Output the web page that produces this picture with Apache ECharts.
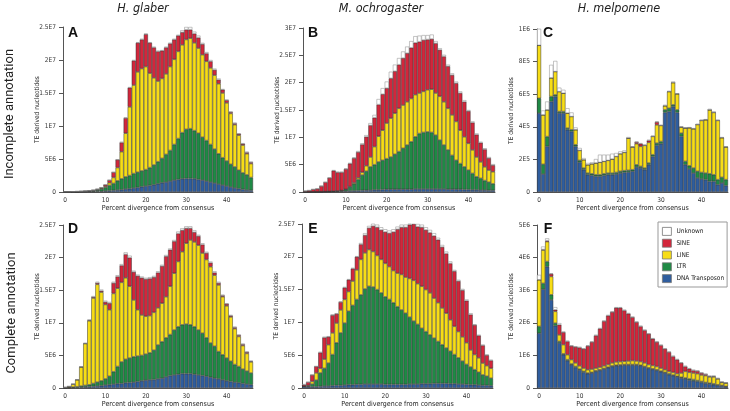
<!DOCTYPE html>
<html>
<head>
<meta charset="utf-8">
<script src="https://cdn.jsdelivr.net/npm/echarts@6/dist/echarts.min.js"></script>
<style>
  html, body { margin: 0; padding: 0; background: #fff; }
  #chart { width: 730px; height: 411px; }
</style>
</head>
<body>
<div id="chart"></div>
<script>
// percent divergence bins
const bins = ['0','1','2','3','4','5','6','7','8','9','10','11','12','13','14','15','16','17','18','19',
  '20','21','22','23','24','25','26','27','28','29','30','31','32','33','34','35','36','37','38','39',
  '40','41','42','43','44','45','46'];

// y tick labels (values are stored in the unit of each panel)
const yTicks25 = ['0', '5E6', '1E7', '1.5E7', '2E7', '2.5E7'];
const yTicks30 = ['0', '5E6', '1E7', '1.5E7', '2E7', '2.5E7', '3E7'];
const yTicks1e6 = ['0', '2E5', '4E5', '6E5', '8E5', '1E6'];
const yTicks5e6 = ['0', '1E6', '2E6', '3E6', '4E6', '5E6'];

// A - H. glaber, incomplete (x1E6)
const aDna = [0.02,0.02,0.03,0.03,0.04,0.05,0.06,0.07,0.09,0.1, 0.15,0.2,0.25,0.3,0.35,0.45,0.5,0.6,0.7,0.8,
  0.9,1.0,1.1,1.25,1.4,1.5,1.65,1.8,1.9,2.0, 2.05,2.05,2.0,1.9,1.8,1.65,1.5,1.35,1.2,1.05, 0.9,0.75,0.6,0.5,0.4,0.3,0.25];
const aLtr = [0.01,0.01,0.01,0.02,0.02,0.03,0.06,0.11,0.19,0.35, 0.55,0.8,1.05,1.4,1.65,1.85,2.0,2.2,2.3,2.4,
  2.5,2.7,3.0,3.35,3.7,4.2,4.65,5.4,6.2,7.0, 7.45,7.55,7.3,7.0,6.5,6.15,5.7,5.15,4.6,4.15, 3.8,3.45,3.2,2.8,2.5,2.3,1.95];
const aLine = [0.01,0.01,0.02,0.03,0.04,0.05,0.05,0.07,0.1,0.13, 0.15,0.4,0.9,2.0,4.1,6.6,10.4,13.4,15.2,15.5,
  15.6,14.3,13.2,12.2,12.1,12.2,12.7,12.9,13.2,13.3, 13.6,13.7,13.3,12.9,12.5,12.0,11.6,11.2,10.6,9.8, 8.8,7.7,6.4,5.3,4.2,3.2,2.1];
const aSine = [0,0,0,0.01,0.01,0.01,0.02,0.03,0.05,0.09, 0.25,0.4,0.8,1.2,1.4,2.3,2.9,3.7,4.4,4.4,
  4.9,4.6,4.6,4.5,4.2,4.0,3.5,3.0,2.4,1.9, 1.5,1.3,1.4,1.6,1.6,1.2,1.0,0.8,0.6,0.5, 0.4,0.2,0.2,0.2,0.2,0.2,0.2];
const aUnk = [0,0,0,0,0,0,0,0.02,0.02,0.03, 0,0,0,0,0.1,0.1,0.1,0.1,0.1,0.1,
  0.1,0.1,0.1,0.1,0.1,0.1,0.1,0.1,0.1,0.3, 0.4,0.4,0.3,0.3,0.2,0.2,0.2,0.2,0.2,0.1, 0.1,0.1,0.1,0.1,0.1,0.1,0.1];

// B - M. ochrogaster, incomplete (x1E6)
const bDna = [0.02,0.02,0.03,0.03,0.04,0.05,0.06,0.08,0.1,0.12, 0.15,0.2,0.22,0.25,0.3,0.32,0.35,0.4,0.4,0.45,
  0.5,0.5,0.5,0.5,0.5,0.5,0.5,0.55,0.55,0.55, 0.55,0.55,0.55,0.55,0.55,0.5,0.5,0.5,0.5,0.45, 0.45,0.4,0.4,0.35,0.35,0.3,0.3];
const bLtr = [0.01,0.01,0.01,0.02,0.02,0.03,0.04,0.05,0.08,0.13, 0.3,0.7,1.28,2.05,2.8,3.48,4.25,4.6,5.1,5.35,
  5.6,5.9,6.4,6.9,7.5,8.1,8.7,9.55,10.15,10.35, 10.45,10.35,9.85,8.95,8.05,7.2,6.2,5.3,4.7,4.15, 3.55,3.0,2.4,2.15,1.75,1.5,1.2];
const bLine = [0.01,0.01,0.01,0.01,0.02,0.02,0.02,0.02,0.02,0.03, 0.05,0.1,0.2,0.3,0.5,1.0,1.8,3.3,4.7,5.5,
  6.5,7.1,7.5,7.9,7.9,7.9,7.9,7.7,7.4,7.5, 7.7,7.9,7.7,8.0,7.9,7.6,7.4,7.1,6.1,5.5, 4.9,4.3,3.6,3.0,2.5,2.2,2.2];
const bSine = [0.16,0.26,0.45,0.54,1.02,1.7,2.48,3.75,3.4,3.32, 3.7,4.2,4.5,4.7,5.1,5.3,5.8,5.3,5.8,6.6,
  6.4,7.3,7.7,8.0,8.6,8.9,9.3,9.5,9.4,9.4, 9.2,9.2,9.1,8.5,8.3,7.7,7.3,7.0,6.8,6.4, 5.9,5.0,4.1,3.5,3.2,2.2,1.2];
const bUnk = [0,0,0,0,0,0,0,0.1,0.1,0.1, 0.1,0.1,0.1,0.2,0.2,0.3,0.4,0.5,1.0,1.1,
  1.2,1.2,1.2,1.2,1.2,1.2,1.2,1.2,1.1,0.9, 0.8,0.8,0.4,0.3,0.3,0.3,0.3,0.3,0.3,0.3, 0.2,0.2,0.2,0.2,0.2,0.2,0.2];

// C - H. melpomene, incomplete (x1E4)
const cDna = [48.4,11,28,55.5,58.6,48.4,48.4,38.2,37.1,28, 18.2,13.7,10.6,10.2,9.6,9.6,10.2,10.6,10.6,11,
  11.6,12,12.2,12.7,15.3,14.7,13.7,16.7,21.8,28.6, 29.6,48.8,49.4,52.4,48.8,34.1,16.7,14.1,11.6,8.6, 8,7.6,6.5,6.5,4.5,5.5,3.9];
const cLtr = [9.1,6,6,3.1,1,1,1,1,1.1,1, 1.2,1,1,1,1,1,1,1,1,1,
  1.1,1.1,1.1,1,1.4,1,1,1.1,1.1,1.4, 1.4,1.6,2,1.1,1.6,2,2.1,2,3.1,4.1, 4,4,4.7,4.1,3.1,3.5,3.7];
const cLine = [32.5,30.3,16.4,11.4,14.3,12.2,11.2,9.2,8.1,9.2, 6.1,5.1,5.1,6.1,7.2,7.6,7.6,7.8,8.6,9.8,
  10.8,11.2,19.7,13.9,12.9,12.3,13.9,12.6,11.2,11.2, 9.8,2.5,10.2,13.6,9.8,3.7,20.4,23.3,24.1,28.7, 31.9,32.7,39.2,38.2,36.3,24.3,20];
const cSine = [0,0,0,0,0,0,0,0,0,0, 0,0,0,0,0,0,0,0,0,0,
  0,0,0,0,1,1.6,0,1.2,0,1.7, 0,0,0,0,0,0,0,0,0,0, 0,0,0,0,0,0,0];
const cUnk = [13,2.7,5.1,8,6.5,2.4,2.1,3,2.5,1.4, 1.5,1,1.1,0.9,2.4,4.7,4.1,3.5,3.3,2.1,
  1.4,1.2,0.7,0.4,0.4,0.4,0.4,0.4,0.4,0.4, 0.4,0.6,0.4,0.7,0.4,0.4,0.4,0.4,0.4,0.4, 0.4,0.4,0.6,0.6,0.4,0.4,0.4];

// D - H. glaber, complete (x1E6)
const dDna = [0.02,0.04,0.06,0.08,0.1,0.15,0.2,0.25,0.3,0.35, 0.45,0.5,0.6,0.65,0.7,0.8,0.85,0.9,1.0,1.1,
  1.2,1.25,1.3,1.4,1.5,1.7,1.9,2.0,2.1,2.2, 2.2,2.2,2.1,2.0,1.9,1.8,1.65,1.5,1.4,1.25, 1.1,1.0,0.9,0.8,0.7,0.6,0.5];
const dLtr = [0.03,0.06,0.09,0.12,0.2,0.25,0.3,0.45,0.6,0.75, 0.95,1.3,1.9,2.65,3.3,3.6,3.75,3.9,3.9,3.9,
  4.0,4.15,4.5,5.2,5.6,6.0,6.3,6.9,7.3,7.5, 7.6,7.5,7.3,6.9,6.5,5.9,5.25,4.9,4.2,3.85, 3.5,3.1,2.7,2.5,2.2,2.0,1.8];
const dLine = [0.05,0.14,0.43,1.05,2.9,6.4,9.8,13.1,15.0,13.6, 11.4,10.2,12.0,12.0,12.2,12.5,11.0,8.7,7.1,6.2,
  5.8,5.7,5.8,5.7,5.9,6.3,7.4,8.7,10.0,11.2, 12.4,13.0,13.0,13.0,12.3,12.0,11.7,10.9,10.2,8.9, 8.0,6.8,5.5,4.6,3.6,2.7,1.7];
const dSine = [0,0,0.01,0.03,0.05,0.05,0.1,0.15,0.2,0.2, 0.4,1.0,1.6,1.8,2.6,3.6,4.4,4.3,5.2,5.7,
  5.7,5.7,5.4,5.4,5.7,6.2,5.6,4.9,4.3,3.3, 2.3,1.8,1.5,1.4,1.3,1.0,0.6,0.4,0.3,0.2, 0.3,0.2,0.2,0.2,0.2,0.2,0.1];
const dUnk = [0,0,0,0.02,0.05,0.05,0.1,0.15,0.2,0.2, 0.2,0.2,0.2,0.2,0.2,0.3,0.3,0.2,0.2,0.2,
  0.2,0.2,0.2,0.2,0.2,0.2,0.2,0.2,0.3,0.3, 0.3,0.3,0.3,0.2,0.2,0.2,0.2,0.2,0.2,0.1, 0.1,0.1,0.1,0.1,0.1,0.1,0.1];

// E - M. ochrogaster, complete (x1E6)
const eDna = [0.2,0.2,0.2,0.2,0.25,0.3,0.3,0.35,0.4,0.4, 0.45,0.5,0.5,0.55,0.55,0.6,0.6,0.6,0.6,0.6,
  0.55,0.55,0.55,0.55,0.55,0.55,0.6,0.6,0.6,0.65, 0.65,0.65,0.7,0.7,0.7,0.7,0.65,0.65,0.6,0.6, 0.55,0.5,0.5,0.45,0.4,0.4,0.35];
const eLtr = [0.05,0.1,0.4,1.0,2.05,2.7,3.5,4.75,6.5,8.0, 9.45,11.2,12.1,12.95,13.65,14.5,14.9,14.8,14.4,13.9,
  13.35,12.95,12.45,11.85,11.35,10.85,10.2,9.6,9.1,8.45, 7.95,7.45,6.9,6.4,5.9,5.4,4.95,4.45,4.0,3.5, 3.05,2.7,2.3,1.95,1.6,1.4,1.15];
const eLine = [0.05,0.1,0.4,1.1,0.7,1.4,2.8,3.3,3.0,3.5, 3.6,3.0,3.7,4.5,5.4,5.5,5.6,5.4,5.2,5.1,
  5.1,5.0,4.9,5.1,5.4,5.5,5.9,6.2,6.2,6.4, 6.4,6.4,6.1,5.9,5.6,5.3,4.8,4.3,4.0,3.7, 3.3,2.6,2.3,2.2,1.8,1.6,1.5];
const eSine = [0.2,0.5,1.0,1.0,2.4,3.3,1.2,2.7,1.4,1.2, 1.8,1.8,1.9,2.0,2.3,2.7,3.3,3.9,4.3,4.5,
  4.8,5.1,5.9,6.7,7.2,7.6,8.2,8.6,8.7,9.0, 9.1,9.2,9.5,9.6,9.3,9.1,8.6,8.4,7.7,7.1, 6.4,5.4,4.5,3.4,2.7,1.6,1.2];
const eUnk = [0.1,0,0,0,0.1,0.1,0.1,0.1,0.1,0.1, 0.1,0.1,0.1,0.1,0.2,0.3,0.3,0.5,0.4,0.4,
  0.4,0.4,0.4,0.4,0.4,0.4,0.4,0.4,0.4,0.4, 0.4,0.4,0.4,0.3,0.3,0.3,0.3,0.2,0.2,0.2, 0.2,0.2,0.1,0.1,0.1,0.1,0.1];

// F - H. melpomene, complete (x1E5)
const fDna = [16.8,30.3,37.2,27.0,19.1,13.8,10.2,8.4,7.1,6.3, 5.5,4.8,4.4,4.6,5.1,5.4,5.8,6.2,6.6,6.8,
  6.9,7.0,7.0,7.0,7.0,6.8,6.4,6.0,5.7,5.4, 5.0,4.6,4.1,3.8,3.4,3.0,2.8,2.4,2.2,2.0, 1.7,1.4,1.2,1.0,0.8,0.6,0.4];
const fLtr = [2.1,1.8,1.6,1.6,0.8,0.5,0.3,0.3,0.3,0.3, 0.3,0.3,0.2,0.2,0.2,0.2,0.2,0.2,0.2,0.2,
  0.2,0.2,0.2,0.2,0.2,0.2,0.2,0.2,0.2,0.2, 0.2,0.2,0.3,0.2,0.2,0.3,0.3,0.4,0.4,0.3, 0.3,0.3,0.3,0.3,0.2,0.2,0.1];
const fLine = [14.3,10.2,6.1,5.6,3.6,2.0,2.8,1.5,1.3,1.1, 1.0,1.0,1.0,1.0,0.8,0.8,0.8,0.8,0.9,1.0,
  1.0,1.0,1.1,1.2,1.1,1.1,1.1,1.0,1.0,1.0, 0.9,0.8,0.7,0.8,0.8,1.3,2.0,2.0,2.0,2.1, 2.0,2.1,1.9,2.1,1.8,0.9,1.0];
const fSine = [0,0.2,0.3,0.8,0.5,3.1,3.8,4.1,4.2,4.9, 5.6,5.9,7.3,8.3,10.0,11.8,13.7,15.0,15.6,16.6,
  16.5,15.6,14.5,13.3,11.9,10.8,10.0,9.4,8.2,7.5, 7.0,6.4,5.9,4.9,4.3,3.1,1.5,1.1,0.8,0.8, 0.6,0.4,0.2,0.2,0.1,0.1,0.1];
const fUnk = [1.5,0.9,0.7,0.2,0.8,0.5,0.2,0.2,0.2,0.2, 0.2,0.2,0.2,0.2,0.2,0.2,0.2,0.2,0.2,0.2,
  0.2,0.2,0.2,0.2,0.2,0.2,0.2,0.2,0.2,0.2, 0.2,0.2,0.2,0.2,0.2,0.2,0.2,0.2,0.2,0.2, 0.2,0.2,0.2,0.2,0.2,0.2,0.1];

const layerNames = ['DNA Transposon', 'LTR', 'LINE', 'SINE', 'Unknown'];
const layerColors = ['#2f5d9e', '#1f8a45', '#f7dd16', '#d3263b', '#ffffff'];

const panels = [
  { key: 'A', box: { left: 63, top: 27, width: 190, height: 165 }, max: 25, step: 5, ticks: yTicks25,
    layers: [aDna, aLtr, aLine, aSine, aUnk] },
  { key: 'B', box: { left: 303, top: 28, width: 192, height: 164 }, max: 30, step: 5, ticks: yTicks30,
    layers: [bDna, bLtr, bLine, bSine, bUnk] },
  { key: 'C', box: { left: 537, top: 29, width: 191, height: 163 }, max: 100, step: 20, ticks: yTicks1e6,
    layers: [cDna, cLtr, cLine, cSine, cUnk] },
  { key: 'D', box: { left: 63, top: 225, width: 190, height: 163 }, max: 25, step: 5, ticks: yTicks25,
    layers: [dDna, dLtr, dLine, dSine, dUnk] },
  { key: 'E', box: { left: 302, top: 224, width: 191, height: 164 }, max: 25, step: 5, ticks: yTicks25,
    layers: [eDna, eLtr, eLine, eSine, eUnk] },
  { key: 'F', box: { left: 537, top: 225, width: 191, height: 163 }, max: 50, step: 10, ticks: yTicks5e6,
    layers: [fDna, fLtr, fLine, fSine, fUnk] }
];

const small = '"DejaVu Sans Condensed", "DejaVu Sans", sans-serif';
const everyTen = (i) => i % 10 === 0;

const grid = [], xAxis = [], yAxis = [], series = [];
panels.forEach((p, k) => {
  grid.push(p.box);
  xAxis.push({
    type: 'category', gridIndex: k, data: bins,
    name: 'Percent divergence from consensus', nameLocation: 'middle', nameGap: 11,
    nameTextStyle: { fontSize: 7, color: '#222', fontFamily: small },
    axisLine: { lineStyle: { color: '#555', width: 1 } },
    axisTick: { alignWithLabel: true, interval: everyTen, length: 3, lineStyle: { color: '#555' } },
    axisLabel: { interval: everyTen, fontSize: 6.5, margin: 5, color: '#333', fontFamily: small }
  });
  yAxis.push({
    type: 'value', gridIndex: k, min: 0, max: p.max, interval: p.step,
    name: 'TE derived nucleotides', nameLocation: 'middle', nameGap: 22, nameMoveOverlap: false,
    nameTextStyle: { fontSize: 6.5, color: '#222', fontFamily: small },
    axisLine: { show: true, lineStyle: { color: '#555', width: 1 } },
    axisTick: { show: true, length: 4, lineStyle: { color: '#555' } },
    splitLine: { show: false },
    axisLabel: { fontSize: 6.5, margin: 7, color: '#333', fontFamily: small,
      formatter: (v) => p.ticks[Math.round(v / p.step)] }
  });
  p.layers.forEach((vals, j) => {
    series.push({
      type: 'bar', name: layerNames[j], xAxisIndex: k, yAxisIndex: k, stack: p.key,
      data: vals, barCategoryGap: '0%',
      itemStyle: { color: layerColors[j], borderColor: j === 4 ? '#8a8a8a' : '#333', borderWidth: 0.5 }
    });
  });
});

const graphic = [];
[['H. glaber', 143], ['M. ochrogaster', 381], ['H. melpomene', 619]].forEach(([t, x]) => {
  graphic.push({ type: 'text', x: x, y: 9, style: { text: t, font: 'italic 12.5px "DejaVu Sans Condensed", "DejaVu Sans"',
    fill: '#222', align: 'center', verticalAlign: 'middle' } });
});
[['Incomplete annotation', 10, 114], ['Complete annotation', 12, 313]].forEach(([t, x, y]) => {
  graphic.push({ type: 'text', x: x, y: y, rotation: Math.PI / 2, style: { text: t, font: '13px Roboto',
    fill: '#222', align: 'center', verticalAlign: 'middle' } });
});
[['A', 73, 33], ['B', 313, 33], ['C', 548, 33], ['D', 73, 229], ['E', 313, 229], ['F', 548, 229]].forEach(([t, x, y]) => {
  graphic.push({ type: 'text', x: x, y: y, style: { text: t, font: 'bold 14px "Liberation Sans"', fill: '#111',
    align: 'center', verticalAlign: 'middle' } });
});

const chart = echarts.init(document.getElementById('chart'));
chart.setOption({
  animation: false,
  backgroundColor: '#fff',
  grid, xAxis, yAxis, series, graphic,
  legend: {
    data: ['Unknown', 'SINE', 'LINE', 'LTR', 'DNA Transposon'],
    icon: 'rect',
    orient: 'vertical', left: 658, top: 222,
    itemWidth: 9, itemHeight: 8, itemGap: 3,
    padding: [5, 3, 4, 4],
    borderColor: '#999', borderWidth: 1,
    itemStyle: { borderColor: '#777', borderWidth: 0.8 },
    textStyle: { fontSize: 6.5, color: '#222', fontFamily: small }
  }
});
</script>
</body>
</html>
